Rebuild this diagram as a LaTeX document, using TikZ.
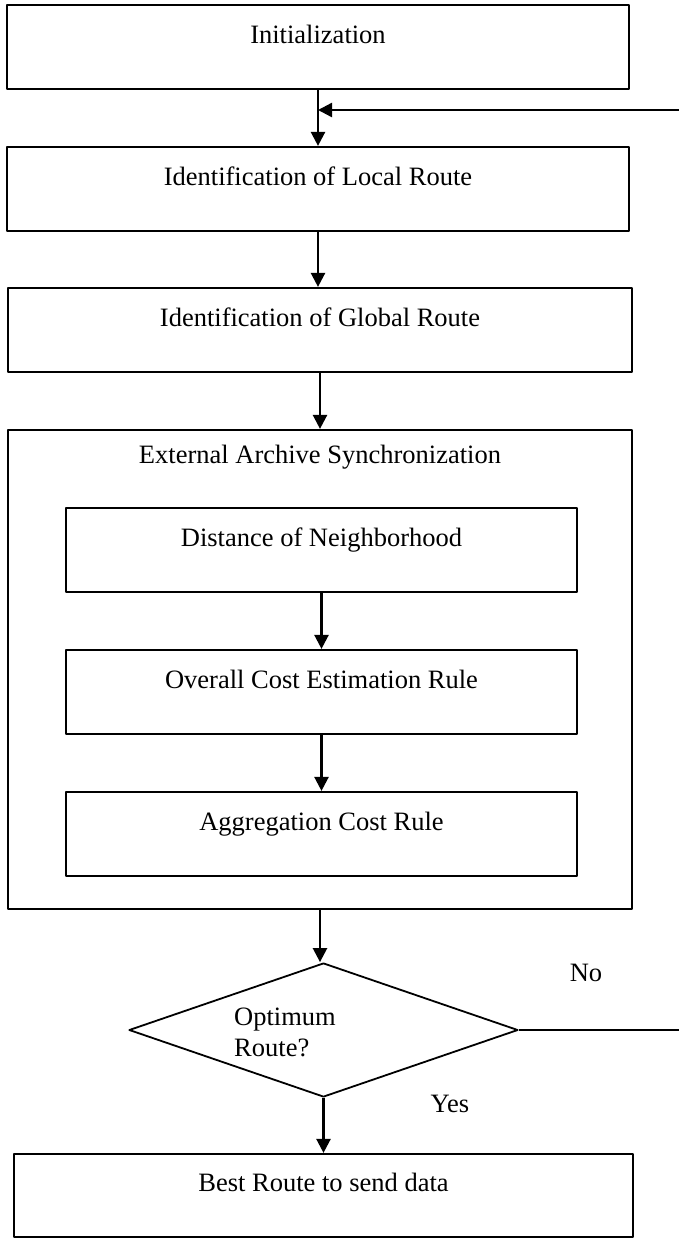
\documentclass[tikz,border=0pt]{standalone}
\usepackage{fontspec}
\setmainfont{Liberation Serif}
\usetikzlibrary{arrows.meta,shapes.geometric}
\begin{document}
\begin{tikzpicture}[x=0.5pt, y=-0.5pt, font=\fontsize{13.25pt}{15.5pt}\selectfont, line join=round, >={Triangle[length=7pt,width=7pt]},
	box/.style={draw, line width=1.1pt, minimum height=42pt, text height=9pt, text depth=13pt, inner sep=0pt},
	decision/.style={draw, diamond, line width=0.9pt, minimum width=194.5pt, minimum height=67pt, inner sep=0pt},
	arr/.style={->, line width=1.2pt}]
		\useasboundingbox (0,0) rectangle (679,1238);
		\node[box, minimum width=311pt] (init) at (318,47) {Initialization};
		\node[box, minimum width=311pt] (local) at (318,189) {Identification of Local Route};
		\node[box, minimum width=312pt] (global) at (320,330) {Identification of Global Route};
		\node[draw, line width=1.1pt, minimum width=312pt, minimum height=239.5pt, inner sep=0pt,
			label={[anchor=center, yshift=-14pt]north:External Archive Synchronization}] (archive) at (320,669.5) {};
		\node[box, minimum width=255.5pt] (dist) at (321.5,550) {Distance of Neighborhood};
		\node[box, minimum width=255.5pt] (cost) at (321.5,692) {Overall Cost Estimation Rule};
		\node[box, minimum width=255.5pt] (aggr) at (321.5,834) {Aggregation Cost Rule};
		\node[decision, label={[anchor=center, align=left, xshift=-19.25pt, yshift=-1.25pt]center:Optimum\\Route?}] (opt) at (323.5,1030) {};
		\node[box, minimum width=309.5pt, minimum height=41.5pt] (best) at (323.5,1195.5) {Best Route to send data};
		\node (no) at (586,973) {No};
		\node (yes) at (450,1104) {Yes};
		\coordinate (loopin) at (679,110);
		\coordinate (loopout) at (679,1030);
		\draw[arr] (init.south) -- (init.south |- local.north);
		\draw[arr] (local.south) -- (local.south |- global.north);
		\draw[arr] (global.south) -- (global.south |- archive.north);
		\draw[arr] (dist.south) -- (dist.south |- cost.north);
		\draw[arr] (cost.south) -- (cost.south |- aggr.north);
		\draw[arr] (archive.south) -- (archive.south |- opt.north);
		\draw[arr] (opt.south) -- (opt.south |- best.north);
		\draw[line width=1.1pt] (opt.east) -- (loopout);
		\draw[arr] (loopin) -- (loopin -| init.south);
	\end{tikzpicture}
\end{document}
